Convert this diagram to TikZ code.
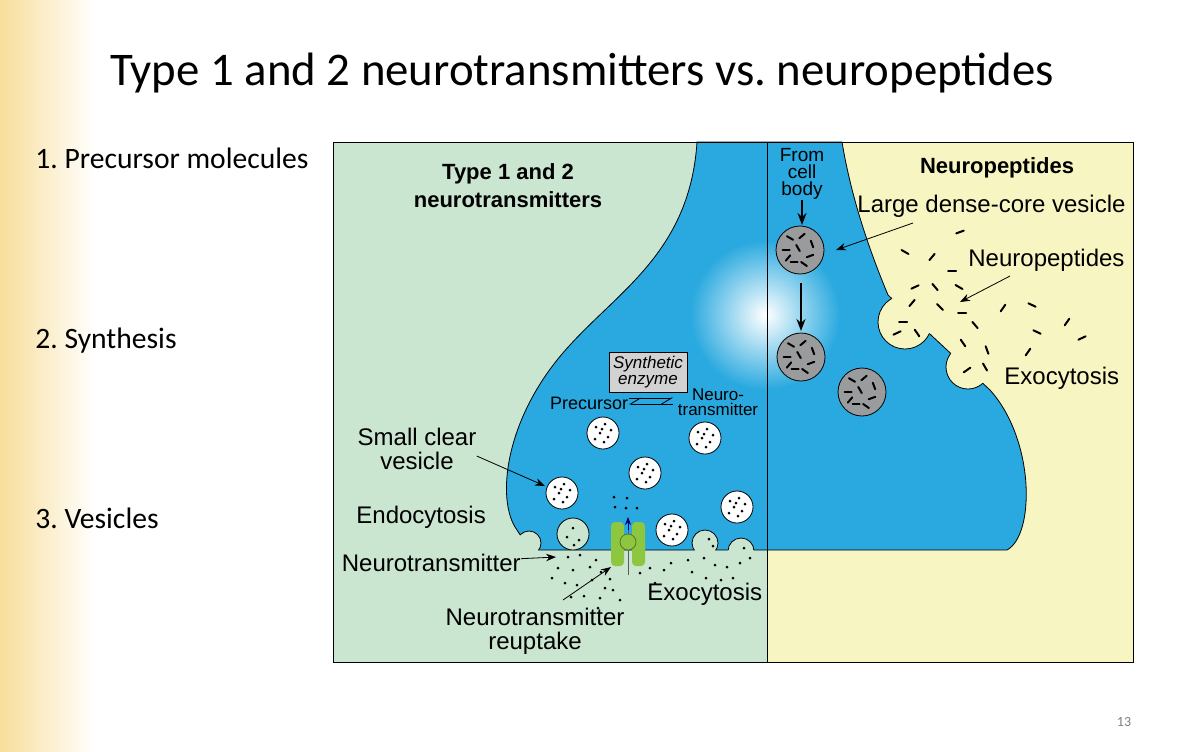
\documentclass[tikz,border=0pt]{standalone}
\usepackage{fontspec}
\setmainfont{Carlito}
\newfontfamily\arial{Liberation Sans}
\usetikzlibrary{arrows.meta}
\definecolor{cleftgreen}{HTML}{CAE5D0}
\definecolor{peptyellow}{HTML}{F7F5C1}
\definecolor{termblue}{HTML}{29A9DF}
\definecolor{lcvgrey}{HTML}{9A9B9D}
\definecolor{tpgreen}{HTML}{8DC63F}
\definecolor{stripyellow}{HTML}{F8DE9A}
\tikzset{
  lbl/.style={font=\arial\fontsize{12}{13}\selectfont, inner sep=0pt},
  hdr/.style={font=\arial\bfseries\fontsize{11}{14}\selectfont, inner sep=0pt, align=center},
  steplbl/.style={font=\fontsize{14.8}{16}\selectfont, anchor=base west, inner sep=0pt},
  ptr/.style={-{Stealth[length=5pt]}, thin},
  bigptr/.style={-{Stealth[length=6pt]}, line width=1pt},
  peptdash/.style={line width=1pt, line cap=round},
}
\frenchspacing
\begin{document}
\begin{tikzpicture}[x=0.5pt, y=-0.5pt]

  \newcommand\termpath{(697,142) .. controls (690,250) and (620,290) .. (570,345)
    .. controls (505,415) and (495,500) .. (517,530) -- (530,550) -- (1007,550)
    .. controls (1035,535) and (1035,440) .. (990,390) -- (888,295)
    .. controls (865,240) and (850,190) .. (842,142) -- cycle}
  \newcommand\clearves[2]{%
    \draw[fill=white] (#1,#2) circle (16);
    \foreach \dx/\dy in {-7/-6,2/-9,8/-3,-3/0,5/4,-8/6,1/9,-1/-4}
      \fill (#1+\dx,#2+\dy) circle (1.5);}
  \newcommand\denseves[2]{%
    \draw[fill=lcvgrey] (#1,#2) circle (24);
    \foreach \dx/\dy/\a in {-10/-12/30,2/-14/-40,12/-6/70,-14/0/0,-2/-2/60,
      10/6/-20,-6/12/0,4/14/35,-12/8/-50}
      \draw[peptdash] (#1+\dx,#2+\dy) ++(\a:3.5) -- ++(\a+180:7);}

  % slide
  \useasboundingbox (0,0) rectangle (1181,751);
  \fill[white] (0,0) rectangle (1181,751);
  \shade[left color=stripyellow, right color=white] (0,0) rectangle (95,751);
  \node[font=\fontsize{23.4}{27}\selectfont, anchor=base] (title) at (582,85)
    {Type 1 and 2 neurotransmitters vs. neuropeptides};
  \node[steplbl] (step1) at (35,168) {1. Precursor molecules};
  \node[steplbl] (step2) at (35,348) {2. Synthesis};
  \node[steplbl] (step3) at (35,528) {3. Vesicles};
  \node[font=\fontsize{7}{8}\selectfont, text=gray] (pgnum) at (1124,722) {13};

  % panels
  \fill[cleftgreen] (333,142) rectangle (767,662);
  \fill[peptyellow] (767,142) rectangle (1133,662);

  % terminal
  \fill[termblue] \termpath;
  \begin{scope}
    \clip \termpath;
    \shade[inner color=white, outer color=termblue] (765,315) circle (75);
  \end{scope}
  \draw \termpath;
  \foreach \cx/\cy/\r/\c in {529/543/12/cleftgreen, 573/534/16/cleftgreen,
      705/543/13/cleftgreen, 741/551/13/cleftgreen,
      905/322/27/peptyellow, 968/367/22/peptyellow}{
    \fill[\c] (\cx,\cy) circle (\r);
    \begin{scope}
      \clip \termpath;
      \draw (\cx,\cy) circle (\r);
    \end{scope}
  }
  \fill[peptyellow] (767,551) rectangle (1010,662);
  \draw[thin] (767,142) -- (767,662);
  \draw (333,142) rectangle (1133,662);

  % small clear vesicles
  \clearves{603}{433}
  \clearves{705}{438}
  \clearves{645}{473}
  \clearves{562}{493}
  \clearves{737}{507}
  \clearves{672}{530}
  \foreach \dx/\dy in {573/528,567/537,579/540,574/545}
    \fill (\dx,\dy) circle (1.5);
  \foreach \dx/\dy in {709/539,713/546,744/548}
    \fill (\dx,\dy) circle (1.5);
  \foreach \dx/\dy in {614/497,627/498,615/507,626/508,637/508}
    \fill (\dx,\dy) circle (1.5);
  % transmitter in the cleft
  \foreach \dx/\dy in {568/557,580/555,558/568,573/570,590/567,601/572,552/578,
      565/583,577/585,592/580,605/588,571/597,584/596,600/598,613/590,610/579,
      598/608,620/600,640/573,650/568,664/570,671/563,688/560,704/558,715/565,
      727/567,740/563,750/558,692/572,706/578,721/580,733/578,655/583,596/560}
    \fill (\dx,\dy) circle (1.5);

  % reuptake transporter
  \fill[tpgreen, rounded corners=2pt] (611,522) rectangle (624,566);
  \fill[tpgreen, rounded corners=2pt] (632,522) rectangle (645,566);
  \draw[gray!70!black] (628,575) -- (628,530);
  \draw[-{Stealth[length=4pt]}, blue!40!black] (628,530) -- (628,517);
  \draw[fill=tpgreen, draw=tpgreen!60!black] (628,542) circle (8);

  % synthesis
  \node[draw, fill=gray!35, inner sep=2pt, align=center, font=\arial\itshape\fontsize{8.5}{8}\selectfont]
    (enzyme) at (648,372) {Synthetic\\enzyme};
  \node[font=\arial\fontsize{9}{9}\selectfont, inner sep=0pt] (precursor) at (589,403) {Precursor};
  \node[font=\arial\fontsize{8.5}{7.5}\selectfont, inner sep=0pt, align=center] (neurotx) at (718,402) {Neuro-\\transmitter};
  \coordinate (hl) at (629,401);
  \coordinate (hr) at (673,401);
  \draw[-{Straight Barb[right,length=5pt,width=6pt]}] ([yshift=-1.5pt]hr) -- ([yshift=-1.5pt]hl);
  \draw[-{Straight Barb[right,length=5pt,width=6pt]}] ([yshift=1.5pt]hl) -- ([yshift=1.5pt]hr);

  % left labels
  \node[lbl, align=center] (sclabel) at (417,449) {Small clear\\[-1pt]vesicle};
  \coordinate (scv) at (545,486);
  \draw[ptr] (sclabel.east |- 0,456) -- (scv);
  \node[lbl, anchor=west] (endolabel) at (356,517) {Endocytosis};
  \node[lbl, anchor=east] (ntlabel) at (521,563) {Neurotransmitter};
  \coordinate (ntdots) at (556,557);
  \draw[ptr] (ntlabel) -- (ntdots);
  \node[lbl, align=center] (reuplabel) at (535,631) {Neurotransmitter\\[-1pt]reuptake};
  \coordinate (tp) at (611,567);
  \draw[ptr] (563,600) -- (tp);
  \node[lbl, anchor=west] (exolabel) at (647,594) {Exocytosis};
  \node[hdr] (leftheader) at (508,186) {Type 1 and 2\\neurotransmitters};

  % right side
  \node[hdr] (rightheader) at (997,168) {Neuropeptides};
  \node[font=\arial\fontsize{9.5}{8.5}\selectfont, inner sep=0pt, align=center] (cellbody) at (802,174)
    {From\\cell\\body};
  \denseves{800}{250}
  \denseves{801}{357}
  \denseves{862}{392}
  \coordinate (ves1top) at (802,225);
  \coordinate (ves1bot) at (801,283);
  \coordinate (ves2top) at (801,331);
  \draw[bigptr] (cellbody.south) -- (ves1top);
  \draw[bigptr] (ves1bot) -- (ves2top);
  \node[lbl, anchor=base west] (ldcvlabel) at (857,212) {Large dense-core vesicle};
  \coordinate (ldcv) at (836,250);
  \draw[ptr] (913,223) -- (ldcv);
  \node[lbl, anchor=base west] (peplabel) at (968,266) {Neuropeptides};
  \coordinate (pep) at (960,302);
  \draw[ptr] (1010,276) -- (pep);
  \node[lbl, anchor=base west] (exo2label) at (1004,384) {Exocytosis};
  \foreach \dx/\dy/\a in {960/232/-20,905/252/30,932/257/-50,952/271/0,915/287/-25,
      935/287/50,959/287/30,912/303/-50,940/307/45,962/313/0,1003/308/-55,1032/305/25,
      903/322/0,897/333/-25,917/333/55,975/325/50,963/343/55,987/350/70,1037/332/25,
      1067/322/-55,1082/338/-25,1028/352/-55,967/370/-35,985/367/60}
    \draw[peptdash] (\dx,\dy) ++(\a:4) -- ++(\a+180:8);

\end{tikzpicture}
\end{document}
